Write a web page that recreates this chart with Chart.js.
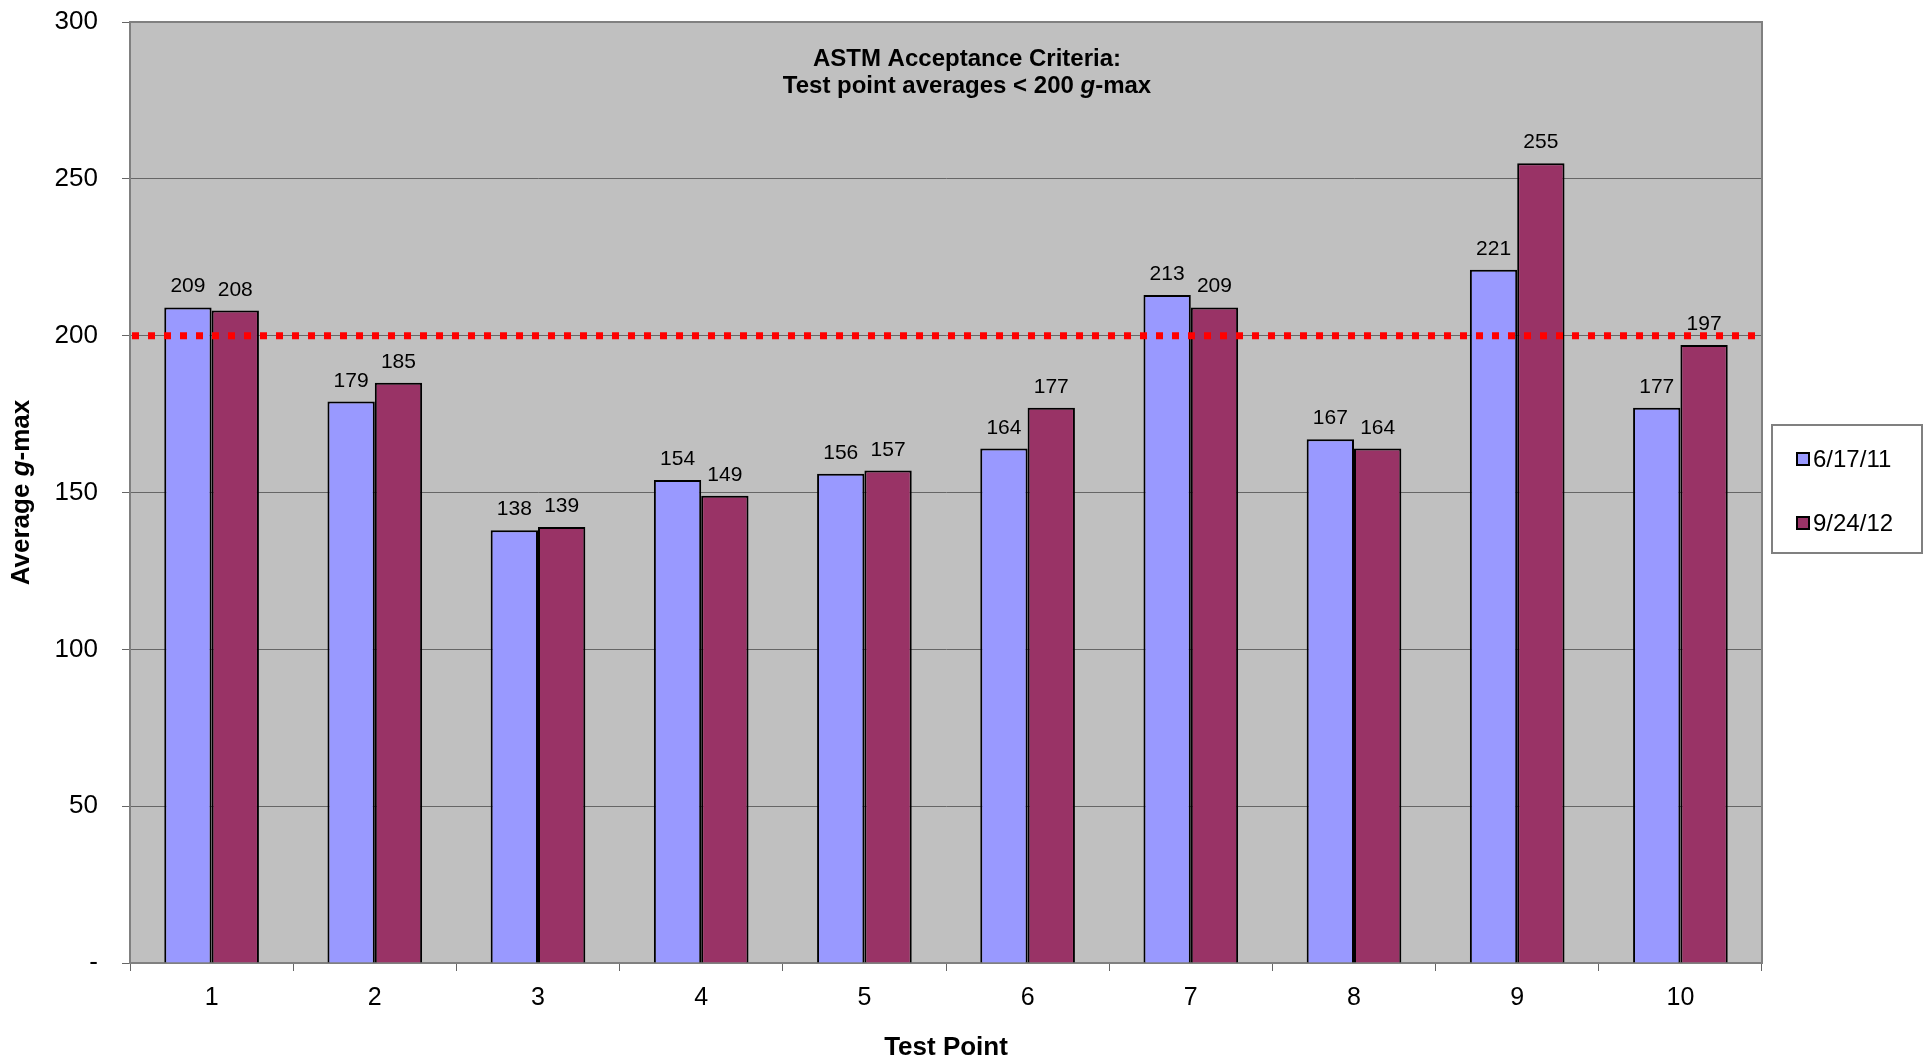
<!DOCTYPE html>
<html>
<head>
<meta charset="utf-8">
<script src="https://cdn.jsdelivr.net/npm/chart.js@4/dist/chart.umd.min.js"></script>
<style>
  html, body { margin: 0; padding: 0; background: #fff; }
  #wrap { width: 1923px; height: 1061px; }
</style>
</head>
<body>
<div id="wrap"><canvas id="myChart" width="1923" height="1061"></canvas></div>
<script>
const testPoints = ["1", "2", "3", "4", "5", "6", "7", "8", "9", "10"];
const june2011 = [209, 179, 138, 154, 156, 164, 213, 167, 221, 177];
const sept2012 = [208, 185, 139, 149, 157, 177, 209, 164, 255, 197];
const seriesLabels = ["6/17/11", "9/24/12"];
const yTicks = [0, 50, 100, 150, 200, 250, 300];
const criteria = 200;
const noteLines = ["ASTM Acceptance Criteria:", "Test point averages < 200 g-max"];

const FONT = '"Liberation Sans", Arial, sans-serif';

// draws text, with the letter "g" in "g-max" in italics
function drawMixed(ctx, text, x, y, size) {
  const parts = text.split(/(g)(?=-max)/);
  let total = 0;
  const widths = parts.map((p) => {
    ctx.font = (p === "g" ? "italic " : "") + "bold " + size + "px " + FONT;
    const w = ctx.measureText(p).width;
    total += w;
    return w;
  });
  let cx = x - total / 2;
  ctx.textAlign = "left";
  parts.forEach((p, i) => {
    ctx.font = (p === "g" ? "italic " : "") + "bold " + size + "px " + FONT;
    ctx.fillText(p, cx, y);
    cx += widths[i];
  });
}

const extras = {
  id: "extras",
  beforeDatasetsDraw(chart) {
    const { ctx, chartArea: a } = chart;
    ctx.save();
    ctx.strokeStyle = "#808080";
    ctx.lineWidth = 2;
    ctx.strokeRect(a.left, a.top, a.right - a.left, a.bottom - a.top);
    ctx.restore();
  },
  afterDatasetsDraw(chart) {
    const { ctx, chartArea: a, scales } = chart;
    ctx.save();
    // value labels
    ctx.fillStyle = "#000";
    ctx.font = "21px " + FONT;
    ctx.textAlign = "center";
    ctx.textBaseline = "alphabetic";
    chart.data.datasets.forEach((ds, i) => {
      chart.getDatasetMeta(i).data.forEach((bar, j) => {
        ctx.fillText(String(ds.data[j]), bar.x, bar.y - 15);
      });
    });
    // acceptance line
    const yc = scales.y.getPixelForValue(criteria);
    ctx.strokeStyle = "#ff0000";
    ctx.lineWidth = 7;
    ctx.setLineDash([7, 9]);
    ctx.beginPath();
    ctx.moveTo(a.left + 2, yc);
    ctx.lineTo(a.right, yc);
    ctx.stroke();
    ctx.setLineDash([]);
    // note inside plot
    ctx.fillStyle = "#000";
    ctx.textBaseline = "alphabetic";
    drawMixed(ctx, noteLines[0], 967, 66, 24);
    drawMixed(ctx, noteLines[1], 967, 93, 24);
    // x title
    drawMixed(ctx, "Test Point", (a.left + a.right) / 2, 1055, 26);
    // y title
    ctx.save();
    ctx.translate(22, (a.top + a.bottom) / 2);
    ctx.rotate(-Math.PI / 2);
    ctx.textBaseline = "middle";
    drawMixed(ctx, "Average g-max", 0, 0, 26);
    ctx.restore();
    // legend
    const lx = 1772, ly = 425, lw = 150, lh = 128;
    ctx.fillStyle = "#fff";
    ctx.fillRect(lx, ly, lw, lh);
    ctx.strokeStyle = "#808080";
    ctx.lineWidth = 2;
    ctx.strokeRect(lx, ly, lw, lh);
    ctx.font = "24px " + FONT;
    ctx.textAlign = "left";
    ctx.textBaseline = "middle";
    chart.data.datasets.forEach((ds, i) => {
      const cy = 459 + i * 64;
      ctx.fillStyle = ds.backgroundColor;
      ctx.fillRect(1797, cy - 6, 12, 12);
      ctx.strokeStyle = "#000";
      ctx.lineWidth = 2;
      ctx.strokeRect(1797, cy - 6, 12, 12);
      ctx.fillStyle = "#000";
      ctx.fillText(ds.label, 1813, cy + 1);
    });
    ctx.restore();
  },
};

const plotBg = {
  id: "plotBg",
  beforeDraw(chart) {
    const { ctx, chartArea: a } = chart;
    ctx.save();
    ctx.fillStyle = "#c0c0c0";
    ctx.fillRect(a.left, a.top, a.right - a.left, a.bottom - a.top);
    ctx.restore();
  },
};

const ctx = document.getElementById("myChart").getContext("2d");
new Chart(ctx, {
  type: "bar",
  data: {
    labels: testPoints,
    datasets: [
      {
        label: seriesLabels[0],
        data: june2011,
        backgroundColor: "#9999ff",
        borderColor: "#000",
        borderWidth: 2,
      },
      {
        label: seriesLabels[1],
        data: sept2012,
        backgroundColor: "#993366",
        borderColor: "#000",
        borderWidth: 2,
      },
    ],
  },
  options: {
    responsive: false,
    animation: false,
    layout: { padding: { left: 0, right: 161, top: 22, bottom: 0 } },
    datasets: { bar: { categoryPercentage: 0.58, barPercentage: 1 } },
    plugins: { legend: { display: false }, tooltip: { enabled: false } },
    scales: {
      x: {
        grid: { drawOnChartArea: false, drawTicks: true, tickLength: 8, color: "#666", offset: true },
        border: { color: "#666", width: 2 },
        ticks: { color: "#000", font: { family: FONT, size: 25 }, padding: 12 },
        afterFit(scale) {
          scale.height = 98;
          scale.paddingLeft = 0;
          scale.paddingRight = 0;
        },
      },
      y: {
        min: 0,
        max: 300,
        afterBuildTicks(scale) { scale.ticks = yTicks.map((v) => ({ value: v })); },
        grid: { color: "#666", lineWidth: 1, tickLength: 8 },
        border: { color: "#666", width: 2 },
        ticks: {
          color: "#000",
          font: { family: FONT, size: 26 },
          padding: 24,
          callback: (v) => (v === 0 ? "-" : v),
        },
        afterFit(scale) {
          scale.width = 130;
          scale.paddingTop = 0;
          scale.paddingBottom = 0;
        },
      },
    },
  },
  plugins: [plotBg, extras],
});
</script>
</body>
</html>
